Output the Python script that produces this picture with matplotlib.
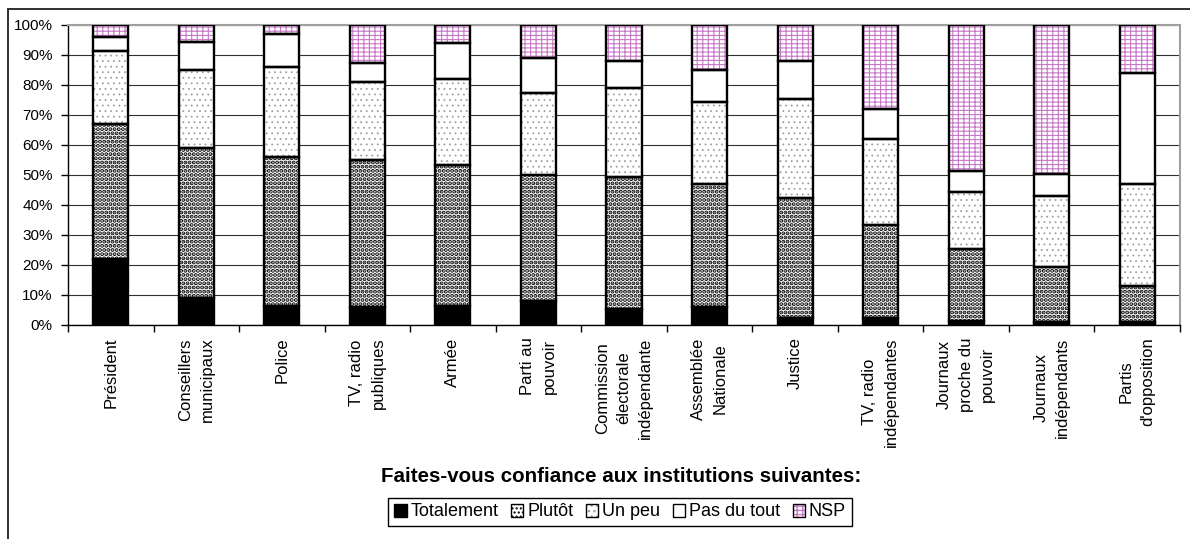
import matplotlib
matplotlib.use('Agg')
import numpy as np
import matplotlib.pyplot as plt
from matplotlib.patches import Patch, Rectangle
from matplotlib.legend_handler import HandlerTuple

plt.rcParams['font.family'] = ['Liberation Sans', 'DejaVu Sans']

institutions = ['Président', 'Conseillers\nmunicipaux', 'Police', 'TV, radio\npubliques',
                'Armée', 'Parti au\npouvoir', 'Commission\nélectorale\nindépendante',
                'Assemblée\nNationale', 'Justice', 'TV, radio\nindépendantes',
                'Journaux\nproche du\npouvoir', 'Journaux\nindépendants', "Partis\nd'opposition"]

series_names = ['Totalement', 'Plutôt', 'Un peu', 'Pas du tout', 'NSP']

# percentages
totalement = [22, 9, 6.5, 6, 6.5, 8, 5.5, 6, 2.5, 2.5, 1.5, 1, 1]
plutot = [45, 50, 49.5, 49, 47, 42, 44, 41, 40, 31, 24, 18.5, 12]
un_peu = [24.5, 26, 30, 26, 28.5, 27.5, 29.5, 27.5, 33, 28.5, 19, 23.5, 34]
pas_du_tout = [4.5, 9.5, 11, 6.5, 12, 11.5, 9, 10.5, 12.5, 10, 7, 7.5, 37]
nsp = [4, 5.5, 3, 12.5, 6, 11, 12, 15, 12, 28, 48.5, 49.5, 16]

# face colour, hatch colour, hatch, hatch line width
looks = [('black', 'black', None, 1.0),
         ('white', 'black', '....', 2.0),
         ('white', '#a0a0a0', '...', 0.6),
         ('white', 'white', None, 1.0),
         ('white', '#c878c8', '----|||', 0.8)]

fig = plt.figure(figsize=(11.9, 5.39), dpi=100)
ax = fig.add_axes([68 / 1190, 1 - 325 / 539, 1112 / 1190, 300 / 539])

x = np.arange(len(institutions))
data = [totalement, plutot, un_peu, pas_du_tout, nsp]
bottom = np.zeros(len(x))
handles = []
for vals, (fc, hc, hatch, hlw) in zip(data, looks):
    vals = np.array(vals, dtype=float)
    with plt.rc_context({'hatch.linewidth': hlw}):
        bars = ax.bar(x, vals, 0.41, bottom=bottom, color=fc, edgecolor=hc,
                      hatch=hatch, linewidth=0, zorder=2)
        for p in bars:
            if hasattr(p, 'set_hatch_linewidth'):
                p.set_hatch_linewidth(hlw)
        ax.bar(x, vals, 0.41, bottom=bottom, fill=False, edgecolor='black',
               linewidth=1.7, zorder=3)
        h1 = Patch(facecolor=fc, edgecolor=hc, hatch=hatch, linewidth=0)
        if hasattr(h1, 'set_hatch_linewidth'):
            h1.set_hatch_linewidth(hlw)
    h2 = Patch(fill=False, edgecolor='black', linewidth=1.0)
    handles.append((h1, h2))
    bottom += vals

ax.set_xlim(-0.5, len(x) - 0.5)
ax.set_ylim(0, 100)
ax.set_yticks(np.arange(0, 101, 10))
ax.set_yticklabels(['%d%%' % v for v in range(0, 101, 10)], fontsize=11)
ax.tick_params(axis='y', direction='out', length=5, width=1, pad=6)

ax.set_xticks(np.arange(-0.5, len(x)), labels=[])
ax.set_xticks(x, labels=institutions, minor=True)
ax.tick_params(axis='x', which='major', direction='out', length=5, width=1)
ax.tick_params(axis='x', which='minor', length=0, pad=9)
for lab in ax.get_xticklabels(minor=True):
    lab.set_rotation(90)
    lab.set_fontsize(12)
    lab.set_va('top')
    lab.set_ha('center')
    lab.set_multialignment('center')
    lab.set_linespacing(1.55)

ax.yaxis.grid(True, color='#303030', linewidth=0.8)
ax.set_axisbelow(True)
for s in ['top', 'right']:
    ax.spines[s].set_color('#a0a0a0')
    ax.spines[s].set_linewidth(1.5)
for s in ['left', 'bottom']:
    ax.spines[s].set_color('black')
    ax.spines[s].set_linewidth(1)

fig.text(621 / 1190, 1 - 476 / 539, 'Faites-vous confiance aux institutions suivantes:',
         fontsize=14.8, fontweight='bold', ha='center', va='center')

leg = fig.legend(handles, series_names, loc='center', bbox_to_anchor=(620 / 1190, 1 - 512 / 539),
                 ncol=5, fontsize=13, frameon=True, fancybox=False, framealpha=1,
                 edgecolor='black', handlelength=0.7, handleheight=0.7,
                 handletextpad=0.2, columnspacing=0.7, borderpad=0.3,
                 handler_map={tuple: HandlerTuple(ndivide=1)})
leg.get_frame().set_linewidth(1)

fig.patches.append(Rectangle((8 / 1190, -0.2), 1.2, 1.2 - 9 / 539, transform=fig.transFigure,
                             fill=False, edgecolor='#202020', linewidth=1.3, zorder=0))

fig.savefig('out.png', dpi=100)
